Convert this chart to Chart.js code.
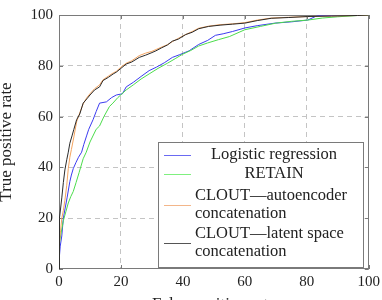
<!DOCTYPE html>
<html>
<head>
<meta charset="utf-8">
<script src="https://cdn.jsdelivr.net/npm/chart.js@4"></script>
<style>
  html, body { margin: 0; padding: 0; background: #fff; overflow: hidden; }
  #wrap { position: absolute; left: -4px; top: 0; width: 388px; height: 315px; }
</style>
</head>
<body>
<div id="wrap"><canvas id="roc"></canvas></div>
<script>
// tick values for both axes
const tickValues = [0, 20, 40, 60, 80, 100];

// Logistic regression
const lrFpr = [0, 0, 0.4, 0.9, 1.4, 2.0, 2.6, 3.5, 4.0, 4.6, 5.5, 6.3, 7.3, 8.0, 8.9, 9.6, 11.0, 12.0, 13.1, 15.3, 17.0, 18.5, 20.5, 21.7, 24.0, 26.5, 29.1, 31.5, 34.0, 36.6, 39.0, 42.0, 45.1, 48.0, 50.5, 53.0, 56.0, 60.0, 64.0, 69.7, 75.0, 80.3, 83.5, 90.0, 95.0, 100];
const lrTpr = [0, 3, 9, 13, 20, 24, 28, 34.4, 37, 39.5, 42, 44, 46, 49, 52.4, 55, 58.8, 62, 65.3, 65.8, 67.5, 68.5, 69.0, 71.7, 73.5, 75.8, 78.1, 79.5, 81.2, 83.3, 84.4, 85.9, 88.4, 90.0, 92.0, 92.6, 93.5, 94.9, 95.8, 96.8, 97.3, 98.0, 99.8, 99.8, 99.9, 100];

// RETAIN
const retFpr = [0, 0, 0.5, 1.4, 2.2, 3.0, 3.8, 4.6, 5.5, 6.5, 7.8, 8.8, 10.0, 12.0, 13.1, 14.5, 16.3, 17.4, 19.0, 21.7, 24.0, 26.5, 29.1, 32.0, 35.0, 37.5, 39.8, 42.5, 45.1, 48.0, 51.5, 55.0, 60.0, 65.0, 70.0, 75.0, 80.3, 85.0, 90.0, 96.3, 100];
const retTpr = [0, 9, 13, 19, 22.5, 26, 28.5, 30.5, 34, 38, 43.4, 46, 50, 55, 56.3, 60, 64, 65.3, 67.5, 70.5, 72.5, 74.8, 76.8, 79, 81, 82.8, 84.5, 86.0, 87.8, 89, 90.3, 91.5, 94.2, 95.5, 96.8, 97.5, 98, 98.8, 99.3, 99.8, 100];

// CLOUT - autoencoder concatenation
const aeFpr = [0, 0, 0.5, 0.9, 1.4, 1.9, 2.5, 3.0, 3.5, 4.0, 4.8, 5.7, 6.7, 7.8, 9.0, 10.0, 11.5, 13.1, 14.2, 16.0, 17.5, 18.5, 20.0, 21.7, 23.5, 25.9, 28.0, 30.0, 31.3, 33.0, 35.0, 36.6, 38.5, 40.9, 43.0, 45.1, 48.3, 52.0, 56.0, 60.0, 64.0, 68.5, 74.0, 80.3, 88.0, 96.3, 100];
const aeTpr = [0, 8.6, 15, 20, 23, 27, 33, 39.5, 44, 47, 52, 58, 61.5, 65, 67.5, 69, 71, 72.5, 74.5, 76, 77.2, 77.8, 79.5, 81, 82, 84, 85, 85.7, 86.4, 87.3, 88.3, 89.5, 90.8, 92.3, 93.5, 94.8, 95.6, 96.2, 96.5, 97, 98, 98.8, 99.1, 99.4, 99.6, 99.8, 100];

// CLOUT - latent space concatenation
const lsFpr = [0, 0, 0.3, 0.9, 1.4, 1.9, 2.5, 3.0, 3.5, 4.2, 4.8, 5.7, 6.7, 7.8, 9.0, 10.0, 11.5, 13.1, 14.2, 16.0, 17.5, 18.5, 20.0, 21.7, 23.5, 25.9, 28.0, 30.0, 31.3, 33.0, 35.0, 36.6, 38.5, 40.9, 43.0, 45.1, 48.3, 52.0, 56.0, 60.0, 64.0, 68.5, 74.0, 80.3, 88.0, 96.3, 100];
const lsTpr = [0, 3.5, 20, 28, 34, 39, 43, 46, 49.5, 52.4, 55, 58.8, 61, 65.3, 67, 68.5, 70.5, 71.7, 74.2, 75.5, 76.8, 77.5, 79, 80.7, 81.5, 83.3, 84.2, 85.2, 85.9, 87.0, 88.2, 89.7, 90.5, 92.3, 93.2, 94.6, 95.5, 96.0, 96.4, 96.8, 97.8, 98.7, 99.0, 99.4, 99.6, 99.8, 100];

const seriesNames = ['Logistic regression', 'RETAIN', 'CLOUT\u2014autoencoder concatenation', 'CLOUT\u2014latent space concatenation'];
const seriesColors = ['#3b3bf0', '#4cdc4c', '#f4a460', '#2a2a2a'];
const legendColors = ['#6a6af2', '#7ff07f', '#f3b68a', '#555555'];

const FONT = "'Liberation Serif', 'Times New Roman', serif";
const TEXT = '#222';

function pts(xs, ys) {
  return xs.map((x, i) => ({ x: x, y: ys[i] }));
}

// box round the plot, grid goes under it
const framePlugin = {
  id: 'frame',
  beforeDatasetsDraw(chart) {
    const { ctx, chartArea: a, scales } = chart;
    ctx.save();
    ctx.strokeStyle = '#7a7a7a';
    ctx.lineWidth = 1;
    ctx.strokeRect(Math.round(a.left) + 0.5, Math.round(a.top) + 0.5,
      Math.round(a.right - a.left) - 1, Math.round(a.bottom - a.top) - 1);
    // inward ticks on all four sides
    ctx.beginPath();
    tickValues.forEach(v => {
      const px = Math.round(scales.x.getPixelForValue(v)) + 0.5;
      ctx.moveTo(px, a.bottom); ctx.lineTo(px, a.bottom - 4);
      ctx.moveTo(px, a.top); ctx.lineTo(px, a.top + 4);
      const py = Math.round(scales.y.getPixelForValue(v)) + 0.5;
      ctx.moveTo(a.left, py); ctx.lineTo(a.left + 4, py);
      ctx.moveTo(a.right, py); ctx.lineTo(a.right - 4, py);
    });
    ctx.stroke();
    ctx.restore();
  }
};

// legend with wrapped entries, like the pgfplots one
const legendPlugin = {
  id: 'texLegend',
  afterDatasetsDraw(chart) {
    const { ctx, chartArea: a } = chart;
    const bx = Math.round(a.left) + 99, by = Math.round(a.top) + 127;
    const bw = 205, bh = 125;
    ctx.save();
    ctx.fillStyle = '#fff';
    ctx.fillRect(bx, by, bw, bh);
    ctx.strokeStyle = '#7a7a7a';
    ctx.lineWidth = 1;
    ctx.strokeRect(bx + 0.5, by + 0.5, bw, bh);

    const lineX0 = bx + 6, lineX1 = bx + 33;
    const midX = bx + 116, leftX = bx + 37;
    // sample y, text lines, y of each text line
    const rows = [
      { ly: 13, lines: [seriesNames[0]], ty: [13], center: true },
      { ly: 32, lines: [seriesNames[1]], ty: [32], center: true },
      { ly: 63, lines: ['CLOUT\u2014autoencoder', 'concatenation'], ty: [54, 72], center: false },
      { ly: 101, lines: ['CLOUT\u2014latent space', 'concatenation'], ty: [92, 110], center: false }
    ];
    ctx.font = '16.5px ' + FONT;
    ctx.textBaseline = 'middle';
    ctx.fillStyle = TEXT;
    rows.forEach((r, i) => {
      ctx.strokeStyle = legendColors[i];
      ctx.beginPath();
      ctx.moveTo(lineX0, by + r.ly + 0.5);
      ctx.lineTo(lineX1, by + r.ly + 0.5);
      ctx.stroke();
      r.lines.forEach((t, j) => {
        ctx.textAlign = r.center ? 'center' : 'left';
        ctx.fillText(t, r.center ? midX : leftX, by + r.ty[j]);
      });
    });
    ctx.restore();
  }
};

const datasets = [
  { label: seriesNames[0], data: pts(lrFpr, lrTpr), borderColor: seriesColors[0], order: 3 },
  { label: seriesNames[1], data: pts(retFpr, retTpr), borderColor: seriesColors[1], order: 2 },
  { label: seriesNames[2], data: pts(aeFpr, aeTpr), borderColor: seriesColors[2], order: 1 },
  { label: seriesNames[3], data: pts(lsFpr, lsTpr), borderColor: seriesColors[3], order: 0 }
].map(d => Object.assign(d, { borderWidth: 1, pointRadius: 0, tension: 0, fill: false }));

const gridOpts = {
  color: ctx => (ctx.tick && (ctx.tick.value === 0 || ctx.tick.value === 100)) ? 'rgba(0,0,0,0)' : '#c4c4c4',
  lineWidth: 1,
  drawTicks: false
};

new Chart(document.getElementById('roc'), {
  type: 'line',
  data: { datasets: datasets },
  options: {
    responsive: true,
    maintainAspectRatio: false,
    animation: false,
    layout: { padding: { left: 0, top: 10, right: 12, bottom: 0 }, autoPadding: false },
    plugins: { legend: { display: false }, tooltip: { enabled: false } },
    scales: {
      x: {
        type: 'linear',
        min: 0, max: 100,
        grid: gridOpts,
        border: { display: false, dash: [5, 4] },
        ticks: { stepSize: 20, padding: 4, color: TEXT, font: { family: FONT, size: 15 } },
        title: { display: true, text: 'False positive rate', color: TEXT, font: { family: FONT, size: 17 }, padding: 0 },
        afterFit: s => { s.height = 46; }
      },
      y: {
        type: 'linear',
        min: 0, max: 100,
        grid: gridOpts,
        border: { display: false, dash: [5, 4] },
        ticks: { stepSize: 20, padding: 6, color: TEXT, font: { family: FONT, size: 15 } },
        title: { display: true, text: 'True positive rate', color: TEXT, font: { family: FONT, size: 17 }, padding: 0 },
        afterFit: s => { s.width = 63; }
      }
    }
  },
  plugins: [framePlugin, legendPlugin]
});
</script>
</body>
</html>
